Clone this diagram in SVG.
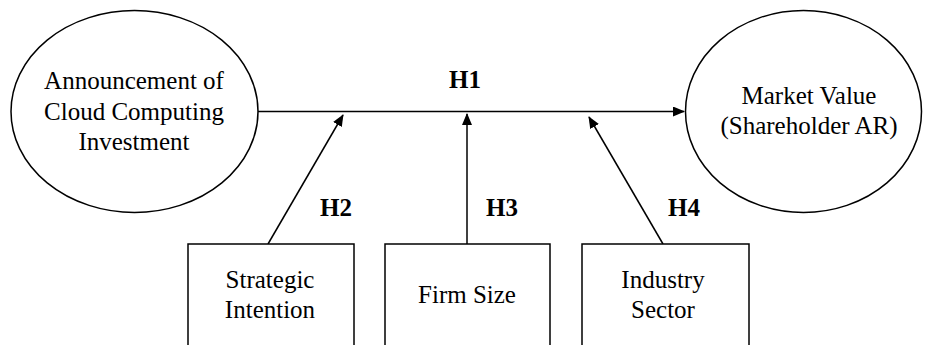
<svg xmlns="http://www.w3.org/2000/svg" width="925" height="345" viewBox="0 0 925 345">
<style>
.shape{fill:#fff;stroke:#000;stroke-width:1.5}
.t{font-family:"Liberation Serif","Times New Roman",serif;font-size:25px;fill:#000;text-anchor:middle}
.b{font-weight:bold}
.c{stroke:#000;stroke-width:1.5;fill:none}
</style>
<defs>
<marker id="ah" viewBox="0 0 12 10" refX="11" refY="5" markerWidth="12" markerHeight="10" markerUnits="userSpaceOnUse" orient="auto">
<path d="M0,0 L12,5 L0,10 Z" fill="#000"/>
</marker>
</defs>
<rect width="925" height="345" fill="#fff"/>
<g id="connectors">
<line class="c" x1="258" y1="111.5" x2="684" y2="111.5" marker-end="url(#ah)"/>
<line class="c" x1="268" y1="244" x2="343" y2="115" marker-end="url(#ah)"/>
<line class="c" x1="467" y1="244" x2="467" y2="114" marker-end="url(#ah)"/>
<line class="c" x1="663" y1="244" x2="589" y2="117" marker-end="url(#ah)"/>
<text class="t b" x="465" y="88">H1</text>
<text class="t b" x="336" y="216">H2</text>
<text class="t b" x="502" y="216">H3</text>
<text class="t b" x="684" y="216">H4</text>
</g>
<g id="announcement">
<ellipse class="shape" cx="134.5" cy="111.5" rx="123.5" ry="101"/>
<text class="t" x="134" y="89">Announcement of</text>
<text class="t" x="134" y="120">Cloud Computing</text>
<text class="t" x="134" y="150">Investment</text>
</g>
<g id="market">
<ellipse class="shape" cx="803.5" cy="111.5" rx="118" ry="101"/>
<text class="t" x="809" y="104">Market Value</text>
<text class="t" x="809" y="134">(Shareholder AR)</text>
</g>
<g id="strategic">
<rect class="shape" x="188" y="244" width="166" height="110"/>
<text class="t" x="270" y="288">Strategic</text>
<text class="t" x="270" y="318">Intention</text>
</g>
<g id="firmsize">
<rect class="shape" x="385" y="244" width="165" height="110"/>
<text class="t" x="467" y="303">Firm Size</text>
</g>
<g id="industry">
<rect class="shape" x="582" y="244" width="167" height="110"/>
<text class="t" x="663" y="288">Industry</text>
<text class="t" x="663" y="318">Sector</text>
</g>
</svg>
